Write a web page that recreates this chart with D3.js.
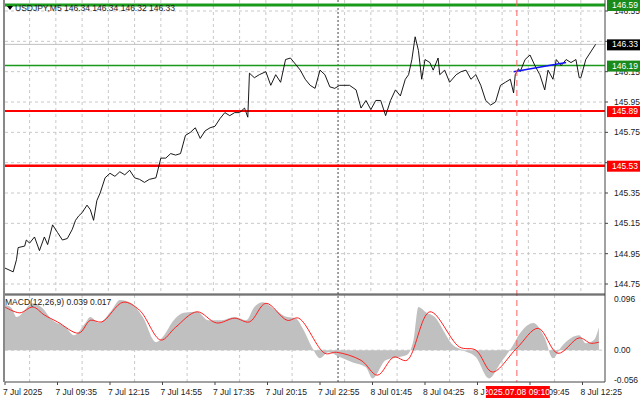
<!DOCTYPE html><html><head><meta charset="utf-8">
<script src="https://cdn.jsdelivr.net/npm/d3@7"></script>
<style>body{margin:0;background:#fff}svg{font-family:"Liberation Sans",Arial,sans-serif;font-size:8.5px}</style></head><body>
<svg id="c" width="640" height="401"></svg>
<script>
const priceBars=[0,5,7,8,12,13,15,18,21,24,26,29,32,35,38,41,43,45,47,50,52,54,56,58,61,64,67,70,73,76,79,82,85,88,92,95,98,101,104,107,110,113,116,119,122,125,128,131,134,137,140,143,146,148,149,152,155,159,162,165,168,171,174,177,180,183,186,189,192,195,198,201,204,210,214,217,220,223,226,229,232,235,238,241,244,246,248,250,252,254,256,259,261,264,265,268,271,275,278,281,284,287,290,293,296,299,302,305,308,310,311,313,314,317,320,323,326,329,331,334,336,339,342,345,348,350,351,354,357,360];
const priceVals=[144.855,144.83,144.91,144.99,145.00,145.04,145.02,145.06,144.97,145.06,145.01,145.14,145.09,145.04,145.05,145.11,145.17,145.20,145.22,145.27,145.24,145.17,145.30,145.35,145.45,145.48,145.46,145.49,145.47,145.50,145.45,145.44,145.42,145.44,145.45,145.58,145.58,145.61,145.60,145.61,145.73,145.75,145.78,145.71,145.76,145.78,145.79,145.84,145.88,145.86,145.88,145.88,145.91,145.85,146.14,146.11,146.13,146.15,146.06,146.13,146.08,146.23,146.24,146.20,
146.16,146.10,146.06,146.04,146.16,146.13,146.05,146.04,146.06,146.06,146.03,145.91,145.96,145.90,145.96,145.96,145.86,145.96,146.03,145.99,146.10,146.13,146.23,146.38,146.29,146.10,146.23,146.21,146.16,146.24,146.13,146.16,146.08,146.13,146.15,146.16,146.10,146.13,146.06,145.96,145.93,145.95,146.06,146.08,146.10,146.01,146.13,146.17,146.15,146.23,146.26,146.19,146.13,146.03,146.16,146.10,146.23,146.19,146.23,146.21,146.23,146.11,146.11,146.23,146.28,146.33];
const histBars=[0,4,7,17,22,29,37,42,49,52,57,65,70,77,84,92,97,102,109,117,124,132,140,147,152,157,165,172,177,182,187,192,197,204,212,220,224,232,240,245,249,252,257,262,267,272,279,287,295,302,309,314,322,329,334,339,345,350,354,359,362];
const histVals=[.085,.079,.062,.088,.081,.056,.043,.028,.051,.062,.051,.075,.094,.088,.062,.015,.028,.053,.070,.072,.056,.056,.062,.056,.081,.090,.075,.062,.060,.038,.006,-.015,-.004,-.013,-.023,-.032,-.053,-.019,-.013,-.009,.019,.081,.070,.062,.038,.013,0,-.013,-.053,-.024,.006,.032,.051,.023,-.015,.006,.023,.028,.013,.019,.043];
const sigBars=[0,9,17,24,32,45,52,59,72,82,95,104,117,129,140,149,159,172,179,195,202,217,227,237,245,259,277,287,297,312,325,337,350,357,362];
const sigVals=[.081,.070,.081,.066,.053,.032,.056,.053,.090,.075,.019,.043,.072,.051,.060,.053,.088,.056,.060,-.006,-.004,-.019,-.047,-.013,-.019,.072,.006,0,-.041,.004,.041,-.006,.023,.013,.015];
const timeLabels=["7 Jul 2025","7 Jul 09:35","7 Jul 12:15","7 Jul 14:55","7 Jul 17:35","7 Jul 20:15","7 Jul 22:55","8 Jul 01:45","8 Jul 04:25","8 Jul 07:05","8 Jul 09:45","8 Jul 12:25"];
const priceTicks=[146.55,146.35,146.15,145.95,145.75,145.55,145.35,145.15,144.95,144.75];
const levels=[{v:146.59,c:"#1a9a1a",w:3},{v:146.19,c:"#1a9a1a",w:1.5},{v:145.89,c:"#ff0000",w:2},{v:145.53,c:"#ff0000",w:2.5}];
const blueSeg=[[310,146.15],[342,146.21]];
const curPrice=146.33, vlineBar=203, redBar=312;

const svg=d3.select("#c");
const L=5,R=605,T=0,B=293,MT=295,MB=382;
const x=d3.scaleLinear().domain([0,365]).range([L,L+365*1.6406]);
const y=d3.scaleLinear().domain([144.75,146.55]).range([284,11]);
const ym=d3.scaleLinear().domain([-0.056,0.096]).range([380,299]);
const dash="3,3";
const boxes=[{v:146.59,bg:"#1a8a1a"},{v:curPrice,bg:"#000"},{v:146.19,bg:"#1a8a1a"},{v:145.89,bg:"#ff0000"},{v:145.53,bg:"#ff0000"}];
// grids
for(let b=-1;b<=370;b+=16){const xx=x(b);if(xx<L||xx>R)continue;
 svg.append("line").attr("x1",xx).attr("x2",xx).attr("y1",T).attr("y2",B).attr("stroke","#c8c8c8").attr("stroke-dasharray",dash);}
for(let b=15;b<=370;b+=32){const xx=x(b);if(xx>R)continue;
 svg.append("line").attr("x1",xx).attr("x2",xx).attr("y1",MT).attr("y2",MB).attr("stroke","#c8c8c8").attr("stroke-dasharray",dash);}
timeLabels.forEach((t,i)=>{const xx=x(i*32)-2;
 if(i!==9) svg.append("text").attr("x",xx).attr("y",395).attr("fill","#222").text(t);
 else svg.append("text").attr("x",xx-2).attr("y",395).attr("fill","#222").text("8 J");
 svg.append("line").attr("x1",xx+2).attr("x2",xx+2).attr("y1",MB).attr("y2",MB+3).attr("stroke","#444");
});
priceTicks.forEach(p=>{
 svg.append("line").attr("x1",L).attr("x2",R).attr("y1",y(p)).attr("y2",y(p)).attr("stroke","#c8c8c8").attr("stroke-dasharray",dash);
 svg.append("line").attr("x1",R).attr("x2",R+3).attr("y1",y(p)).attr("y2",y(p)).attr("stroke","#444");
 if(boxes.some(b=>Math.abs(y(b.v)-y(p))<6)) return;
 svg.append("text").attr("x",R+9).attr("y",y(p)+3).attr("fill","#222").text(p.toFixed(2));});
[0.096,0,-0.056].forEach(v=>{if(v===0)svg.append("line").attr("x1",L).attr("x2",R).attr("y1",ym(0)).attr("y2",ym(0)).attr("stroke","#c8c8c8").attr("stroke-dasharray",dash);
 svg.append("text").attr("x",R+9).attr("y",ym(v)+3).attr("fill","#222").text(v===0?"0.00":v.toFixed(3));});
svg.append("line").attr("x1",L).attr("x2",R).attr("y1",y(curPrice)).attr("y2",y(curPrice)).attr("stroke","#c0c0c0");
svg.append("line").attr("x1",x(vlineBar)).attr("x2",x(vlineBar)).attr("y1",T).attr("y2",MB).attr("stroke","#444").attr("stroke-dasharray","2,2");
svg.append("path").datum(histBars.map((b,i)=>[b,histVals[i]])).attr("fill","#c0c0c0")
 .attr("d",d3.area().x(d=>x(d[0])).y0(ym(0)).y1(d=>ym(d[1])).curve(d3.curveMonotoneX));
svg.append("path").datum(sigBars.map((b,i)=>[b,sigVals[i]])).attr("fill","none").attr("stroke","#ff2020").attr("stroke-width",1)
 .attr("d",d3.line().x(d=>x(d[0])).y(d=>ym(d[1])).curve(d3.curveCatmullRom));
levels.forEach(l=>svg.append("line").attr("x1",L).attr("x2",R).attr("y1",y(l.v)).attr("y2",y(l.v)).attr("stroke",l.c).attr("stroke-width",l.w));
svg.append("path").datum(priceBars.map((b,i)=>[b,priceVals[i]])).attr("fill","none").attr("stroke","#000").attr("stroke-width",0.9)
 .attr("d",d3.line().x(d=>x(d[0])).y(d=>y(d[1])));
svg.append("line").attr("x1",x(blueSeg[0][0])).attr("y1",y(blueSeg[0][1])).attr("x2",x(blueSeg[1][0])).attr("y2",y(blueSeg[1][1])).attr("stroke","#1010ff").attr("stroke-width",1.5);
svg.append("line").attr("x1",x(redBar)).attr("x2",x(redBar)).attr("y1",T).attr("y2",MB).attr("stroke","#ff6060").attr("stroke-dasharray","6,4");
svg.append("line").attr("x1",L-1).attr("x2",L-1).attr("y1",0).attr("y2",MB).attr("stroke","#888").attr("stroke-width",2);
svg.append("line").attr("x1",R).attr("x2",R).attr("y1",0).attr("y2",MB).attr("stroke","#444");
svg.append("line").attr("x1",L).attr("x2",R).attr("y1",B+1).attr("y2",B+1).attr("stroke","#444");
svg.append("line").attr("x1",L).attr("x2",R).attr("y1",MT).attr("y2",MT).attr("stroke","#444");
svg.append("line").attr("x1",L).attr("x2",R).attr("y1",MB).attr("y2",MB).attr("stroke","#444");
boxes.forEach(b=>{const yy=Math.max(y(b.v),5);svg.append("rect").attr("x",R+2).attr("y",yy-5).attr("width",33).attr("height",11).attr("fill",b.bg);
 svg.append("text").attr("x",R+7).attr("y",yy+3).attr("fill","#fff").text(b.v.toFixed(2));});
svg.append("rect").attr("x",x(redBar)-31).attr("y",386).attr("width",64).attr("height",12).attr("fill","#ff0000");
svg.append("text").attr("x",x(redBar)).attr("y",395).attr("text-anchor","middle").attr("fill","#fff").text("2025.07.08 09:10");
svg.append("path").attr("d","M7,6 L13,6 L10,10 Z").attr("fill","#000");
svg.append("text").attr("x",15).attr("y",11).attr("fill","#222").text("USDJPY,M5  146.34 146.34 146.32 146.33");
svg.append("text").attr("x",5).attr("y",305).attr("fill","#222").text("MACD(12,26,9) 0.039 0.017");
</script></body></html>
